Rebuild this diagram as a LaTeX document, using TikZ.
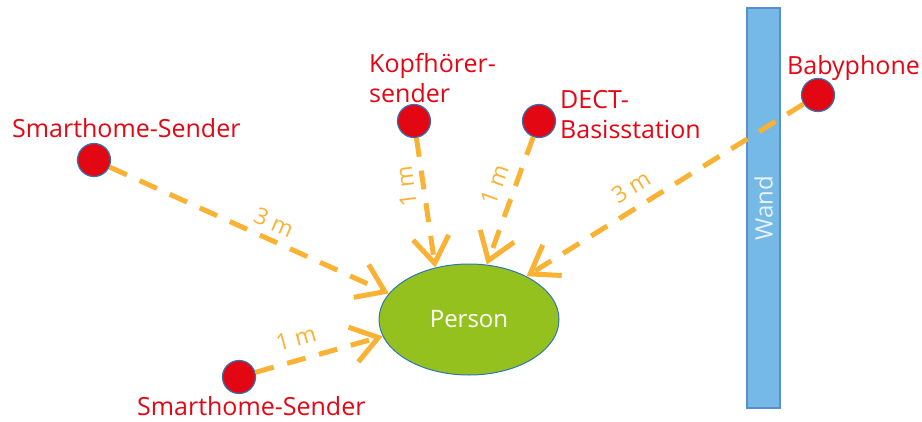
\documentclass[tikz,border=0pt]{standalone}
\usepackage{fontspec}
\setmainfont{Open Sans}
\usetikzlibrary{arrows.meta,shapes.geometric}
\definecolor{sred}{HTML}{E30613}
\definecolor{sorange}{HTML}{F9B233}
\definecolor{sgreen}{HTML}{95C11F}
\definecolor{sblue}{HTML}{2E75B6}
\definecolor{wandfill}{HTML}{75B9E7}
\definecolor{wandline}{HTML}{5B8ED0}
\definecolor{wandtext}{HTML}{E8F3FB}
\begin{document}
\begin{tikzpicture}[x=1pt,y=-1pt,
  dev/.style={circle, fill=sred, draw=sblue, line width=1.2pt, minimum size=33pt, inner sep=0pt},
  lab/.style={text=sred, font=\fontsize{25}{30}\selectfont, inner sep=0pt, align=left, anchor=base west},
  ray/.style={draw=sorange, line width=5pt, dash pattern=on 19pt off 14pt, -{Straight Barb[length=26pt,width=36pt]}},
  dist/.style={text=sorange, font=\fontsize{23}{26}\selectfont, inner sep=0pt}]
\useasboundingbox (0,0) rectangle (922,421);
% wall
\node[rectangle, rotate=90, minimum width=400pt, minimum height=33pt, fill=wandfill, draw=wandline, line width=1.5pt,
      text=wandtext, font=\fontsize{24}{28}\selectfont] (wand) at (763.5,208) {Wand};
% person
\node[ellipse, minimum width=180pt, minimum height=111pt, fill=sgreen, draw=sblue, line width=1pt,
      text=white, font=\fontsize{24}{28}\selectfont] (person) at (469,319.5) {Person};
% devices
\node[dev] (sh1) at (94,160) {};
\node[dev] (kh) at (414,121) {};
\node[dev] (dect) at (539,121) {};
\node[dev] (baby) at (818,95) {};
\node[dev] (sh2) at (239,377) {};
% rays
\draw[ray] (sh1) -- (person.162);
\draw[ray] (kh) -- (person.123);
\draw[ray] (dect) -- (person.72);
\draw[ray] (baby) -- (person.37);
\draw[ray] (sh2) -- (person.191);
% distance labels
\node[dist, rotate=-24] (d1) at (274,222) {3 m};
\node[dist, rotate=97.5] (d2) at (406,186) {1 m};
\node[dist, rotate=70.5] (d3) at (495,185) {1 m};
\node[dist, rotate=31.7] (d4) at (631,187) {3 m};
\node[dist, rotate=15.5] (d5) at (296,338) {1 m};
% device labels
\node[lab] (l1) at (12,137) {Smarthome-Sender};
\node[lab] (l2) at (369,102) {Kopfhörer-\\sender};
\node[lab] (l3) at (560,138) {DECT-\\Basisstation};
\node[lab] (l4) at (787,74) {Babyphone};
\node[lab] (l5) at (137,415) {Smarthome-Sender};
\end{tikzpicture}
\end{document}
